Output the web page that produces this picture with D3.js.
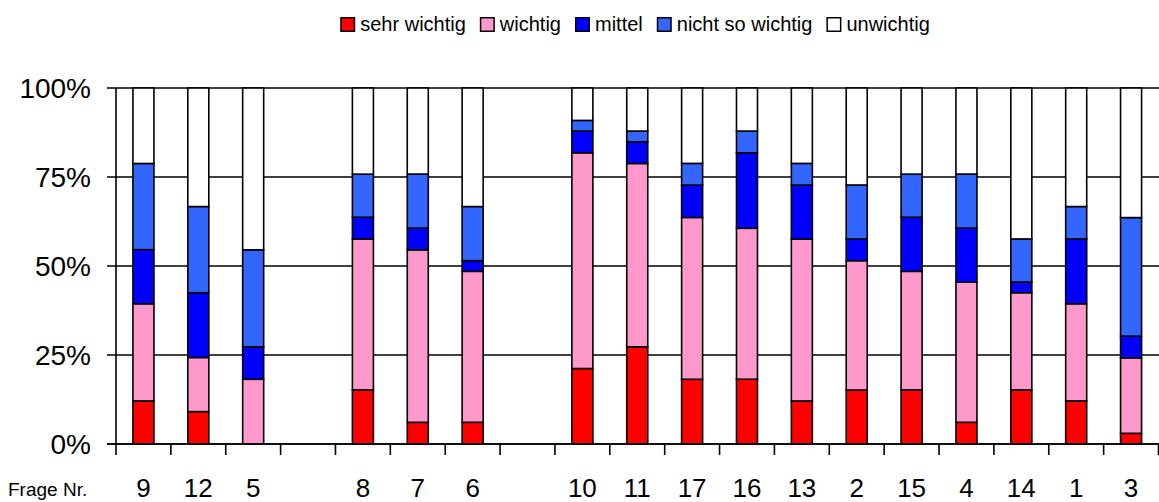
<html>
<head>
<meta charset="utf-8">
<script src="https://cdn.jsdelivr.net/npm/d3@7/dist/d3.min.js"></script>
<style>
  body { margin: 0; background: #fff; }
  text { font-family: "Liberation Sans", Arial, sans-serif; fill: #000; }
</style>
</head>
<body>
<div id="chart"></div>
<script>
// slots along the x axis, empty strings mark the gaps
var slots = ["9", "12", "5", "", "8", "7", "6", "", "10", "11", "17", "16", "13", "2", "15", "4", "14", "1", "3"];
var questions = ["9", "12", "5", "8", "7", "6", "10", "11", "17", "16", "13", "2", "15", "4", "14", "1", "3"];

var seriesNames = ["sehr wichtig", "wichtig", "mittel", "nicht so wichtig", "unwichtig"];
var seriesColors = ["#ff0000", "#ff99cc", "#0000ff", "#3366ff", "#ffffff"];

// percent of answers per question (same order as questions)
var sehrWichtig    = [12.1,  9.1,  0.0, 15.2,  6.1,  6.1, 21.2, 27.3, 18.2, 18.2, 12.1, 15.2, 15.2,  6.1, 15.2, 12.1,  3.0];
var wichtig        = [27.3, 15.2, 18.2, 42.4, 48.5, 42.4, 60.6, 51.5, 45.5, 42.4, 45.5, 36.4, 33.3, 39.4, 27.3, 27.3, 21.2];
var mittel         = [15.2, 18.2,  9.1,  6.1,  6.1,  3.0,  6.1,  6.1,  9.1, 21.2, 15.2,  6.1, 15.2, 15.2,  3.0, 18.2,  6.1];
var nichtSoWichtig = [24.2, 24.2, 27.3, 12.1, 15.2, 15.2,  3.0,  3.0,  6.1,  6.1,  6.1, 15.2, 12.1, 15.2, 12.1,  9.1, 33.3];
var unwichtig      = [21.2, 33.3, 45.5, 24.2, 24.2, 33.3,  9.1, 12.1, 21.2, 12.1, 21.2, 27.3, 24.2, 24.2, 42.4, 33.3, 36.4];

var yTicks = [0, 0.25, 0.5, 0.75, 1];

var width = 1159, height = 502;
var plotLeft = 116, plotRight = 1158.5, plotTop = 88, plotBottom = 444;

var table = questions.map(function(q, i) {
    var row = { q: q };
    row[seriesNames[0]] = sehrWichtig[i];
    row[seriesNames[1]] = wichtig[i];
    row[seriesNames[2]] = mittel[i];
    row[seriesNames[3]] = nichtSoWichtig[i];
    row[seriesNames[4]] = unwichtig[i];
    return row;
});

var stacked = d3.stack().keys(seriesNames).offset(d3.stackOffsetExpand)(table);

var slotKeys = slots.map(function(s, i) { return s === "" ? "gap" + i : s; });

var x = d3.scaleBand()
    .domain(slotKeys)
    .range([plotLeft, plotRight])
    .paddingInner(0.617)
    .paddingOuter(0.3085);

var y = d3.scaleLinear().domain([0, 1]).range([plotBottom, plotTop]);

var color = d3.scaleOrdinal().domain(seriesNames).range(seriesColors);

var svg = d3.select("#chart").append("svg")
    .attr("width", width)
    .attr("height", height);

// gridlines + y ticks
svg.append("g").selectAll("line")
    .data(yTicks)
    .enter().append("line")
    .attr("x1", plotLeft - 9)
    .attr("x2", width)
    .attr("y1", function(d) { return y(d); })
    .attr("y2", function(d) { return y(d); })
    .attr("stroke", "#000")
    .attr("stroke-width", 1.6);

svg.append("g").selectAll("text")
    .data(yTicks)
    .enter().append("text")
    .attr("x", 91)
    .attr("y", function(d) { return y(d); })
    .attr("dy", "0.35em")
    .attr("text-anchor", "end")
    .attr("font-size", "28px")
    .text(d3.format(".0%"));

// y axis line
svg.append("line")
    .attr("x1", plotLeft).attr("x2", plotLeft)
    .attr("y1", plotTop).attr("y2", plotBottom)
    .attr("stroke", "#000").attr("stroke-width", 1.6);

// bars
svg.append("g").selectAll("g")
    .data(stacked)
    .enter().append("g")
    .attr("fill", function(d) { return color(d.key); })
    .selectAll("rect")
    .data(function(d) { return d; })
    .enter().append("rect")
    .attr("x", function(d) { return x(d.data.q); })
    .attr("width", x.bandwidth())
    .attr("y", function(d) { return y(d[1]); })
    .attr("height", function(d) { return y(d[0]) - y(d[1]); })
    .attr("stroke", "#000")
    .attr("stroke-width", 1.6);

// x axis line and tick marks between categories
svg.append("line")
    .attr("x1", plotLeft - 9).attr("x2", width)
    .attr("y1", plotBottom).attr("y2", plotBottom)
    .attr("stroke", "#000").attr("stroke-width", 1.6);

svg.append("g").selectAll("line")
    .data(d3.range(slots.length + 1))
    .enter().append("line")
    .attr("x1", function(i) { return plotLeft + i * x.step(); })
    .attr("x2", function(i) { return plotLeft + i * x.step(); })
    .attr("y1", plotBottom)
    .attr("y2", plotBottom + 11)
    .attr("stroke", "#000")
    .attr("stroke-width", 1.6);

svg.append("g").selectAll("text")
    .data(questions)
    .enter().append("text")
    .attr("x", function(d) { return x(d) + x.bandwidth() / 2; })
    .attr("y", 497)
    .attr("text-anchor", "middle")
    .attr("font-size", "26px")
    .text(function(d) { return d; });

svg.append("text")
    .attr("x", 8)
    .attr("y", 496)
    .attr("font-size", "19px")
    .text("Frage Nr.");

// legend
var legend = svg.append("g");
var lx = 0;
seriesNames.forEach(function(name) {
    legend.append("rect")
        .attr("x", lx + 0.75).attr("y", 17.75)
        .attr("width", 13.5).attr("height", 13.5)
        .attr("fill", color(name))
        .attr("stroke", "#000")
        .attr("stroke-width", 1.5);
    var t = legend.append("text")
        .attr("x", lx + 20)
        .attr("y", 31)
        .attr("font-size", "20px")
        .text(name);
    lx += 20 + t.node().getComputedTextLength() + 14;
});
var legendWidth = lx - 14;
legend.attr("transform", "translate(" + (635 - legendWidth / 2) + ",0)");
</script>
</body>
</html>
